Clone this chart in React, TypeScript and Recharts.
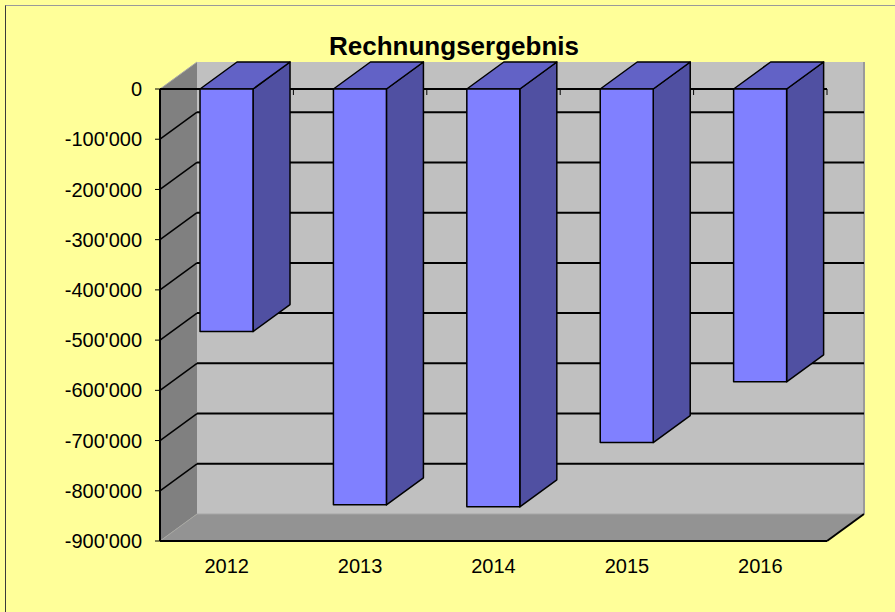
import { BarChart, Bar, XAxis, YAxis, Customized } from 'recharts';

// Werte
const years = ['2012', '2013', '2014', '2015', '2016'];
const results = [-483000, -828000, -832000, -704000, -583000];
const yTicks = [0, -100000, -200000, -300000, -400000, -500000, -600000, -700000, -800000, -900000];
const title = 'Rechnungsergebnis';

const data = years.map((year, i) => ({ year, value: results[i] }));

// Geometrie
const W = 895;
const H = 612;
const MARGIN = { top: 89, right: 68, bottom: 31, left: 0 };
const Y_AXIS_W = 160;
const X_AXIS_H = 40;
const PLOT = {
  left: MARGIN.left + Y_AXIS_W,
  top: MARGIN.top,
  right: W - MARGIN.right,
  bottom: H - MARGIN.bottom - X_AXIS_H,
};
const DX = 37; // Tiefe nach rechts
const DY = -27; // Tiefe nach oben
const FONT = '"Liberation Sans", Arial, sans-serif';

const fmt = (v: number) => {
  const s = Math.abs(v).toString().replace(/\B(?=(\d{3})+(?!\d))/g, "'");
  return v < 0 ? '-' + s : s;
};

const yPos = (v: number) =>
  PLOT.top + ((0 - v) / (0 - yTicks[yTicks.length - 1])) * (PLOT.bottom - PLOT.top);

// Wände, Boden, Gitter, Titel
const Walls = () => {
  const { left, top, right, bottom } = PLOT;
  const band = (right - left) / years.length;
  return (
    <g>
      {/* Rückwand */}
      <rect x={left + DX} y={top + DY} width={right - left} height={bottom - top} fill="#c0c0c0" />
      <line x1={right + DX} y1={top + DY} x2={right + DX} y2={bottom + DY} stroke="#9a9a9a" strokeWidth={2} />
      {yTicks.slice(1, -1).map((t) => (
        <line key={'g' + t} x1={left + DX} x2={right + DX} y1={yPos(t) + DY} y2={yPos(t) + DY} stroke="#000" strokeWidth={2} />
      ))}
      {/* Seitenwand */}
      <polygon
        points={`${left},${top} ${left + DX},${top + DY} ${left + DX},${bottom + DY} ${left},${bottom}`}
        fill="#808080"
      />
      {yTicks.slice(1, -1).map((t) => (
        <line key={'s' + t} x1={left} y1={yPos(t)} x2={left + DX} y2={yPos(t) + DY} stroke="#000" strokeWidth={1.5} />
      ))}
      <line x1={left} y1={top} x2={left + DX} y2={top + DY} stroke="#a8a8a8" strokeWidth={1} />
      {/* Boden */}
      <polygon
        points={`${left},${bottom} ${left + DX},${bottom + DY} ${right + DX},${bottom + DY} ${right},${bottom}`}
        fill="#939393"
      />
      <line x1={left + DX} y1={bottom + DY} x2={right + DX} y2={bottom + DY} stroke="#a6a6a6" strokeWidth={1} />
      <line x1={left} y1={bottom} x2={left + DX} y2={bottom + DY} stroke="#a6a6a6" strokeWidth={1} />
      <line x1={right} y1={bottom} x2={right + DX} y2={bottom + DY} stroke="#000" strokeWidth={2} />
      {/* Nulllinie mit Kategorie-Strichen */}
      <line x1={left} x2={right} y1={top} y2={top} stroke="#000" strokeWidth={2} />
      {years.map((y, i) => (
        <line key={'t' + y} x1={left + band * i} x2={left + band * i} y1={top} y2={top + 6} stroke="#000" strokeWidth={1} />
      ))}
      <line x1={right} x2={right} y1={top} y2={top + 6} stroke="#000" strokeWidth={1} />
      <text x={454} y={55} textAnchor="middle" fontFamily={FONT} fontWeight="bold" fontSize={26} fill="#000">
        {title}
      </text>
    </g>
  );
};

const Bar3D = (props: any) => {
  const { x, y, width, height } = props;
  const y0 = Math.min(y, y + height);
  const y1 = Math.max(y, y + height);
  const x1 = x + width;
  return (
    <g stroke="#000" strokeWidth={1.5} strokeLinejoin="round">
      <polygon points={`${x1},${y0} ${x1 + DX},${y0 + DY} ${x1 + DX},${y1 + DY} ${x1},${y1}`} fill="#5050a2" />
      <polygon points={`${x},${y0} ${x + DX},${y0 + DY} ${x1 + DX},${y0 + DY} ${x1},${y0}`} fill="#6262c6" />
      <rect x={x} y={y0} width={width} height={y1 - y0} fill="#8080ff" />
    </g>
  );
};

export default function App() {
  return (
    <div style={{ position: 'absolute', left: 0, top: 0, width: W, height: H, background: '#ffff99', overflow: 'hidden' }}>
      <div
        style={{
          position: 'absolute',
          left: 5,
          top: 5,
          width: W,
          height: H,
          borderLeft: '1px solid #3a3a3a',
          borderTop: '1px solid #9a9a9a',
        }}
      />
      <div style={{ position: 'absolute', left: 0, top: 0 }}>
        <BarChart width={W} height={H} data={data} margin={MARGIN} barCategoryGap="30%">
          <Customized component={<Walls />} />
          <XAxis
            dataKey="year"
            height={X_AXIS_H}
            tickLine={false}
            tickSize={0}
            tickMargin={18}
            axisLine={{ stroke: '#000', strokeWidth: 2 }}
            tick={{ fill: '#000', fontSize: 20, fontFamily: FONT }}
            interval={0}
          />
          <YAxis
            width={Y_AXIS_W}
            domain={[yTicks[yTicks.length - 1], 0]}
            ticks={yTicks}
            interval={0}
            tickFormatter={fmt}
            tickSize={5}
            tickMargin={13}
            tickLine={{ stroke: '#000' }}
            axisLine={{ stroke: '#000', strokeWidth: 2 }}
            tick={{ fill: '#000', fontSize: 20, fontFamily: FONT }}
          />
          <Bar dataKey="value" shape={<Bar3D />} isAnimationActive={false} />
        </BarChart>
      </div>
    </div>
  );
}
